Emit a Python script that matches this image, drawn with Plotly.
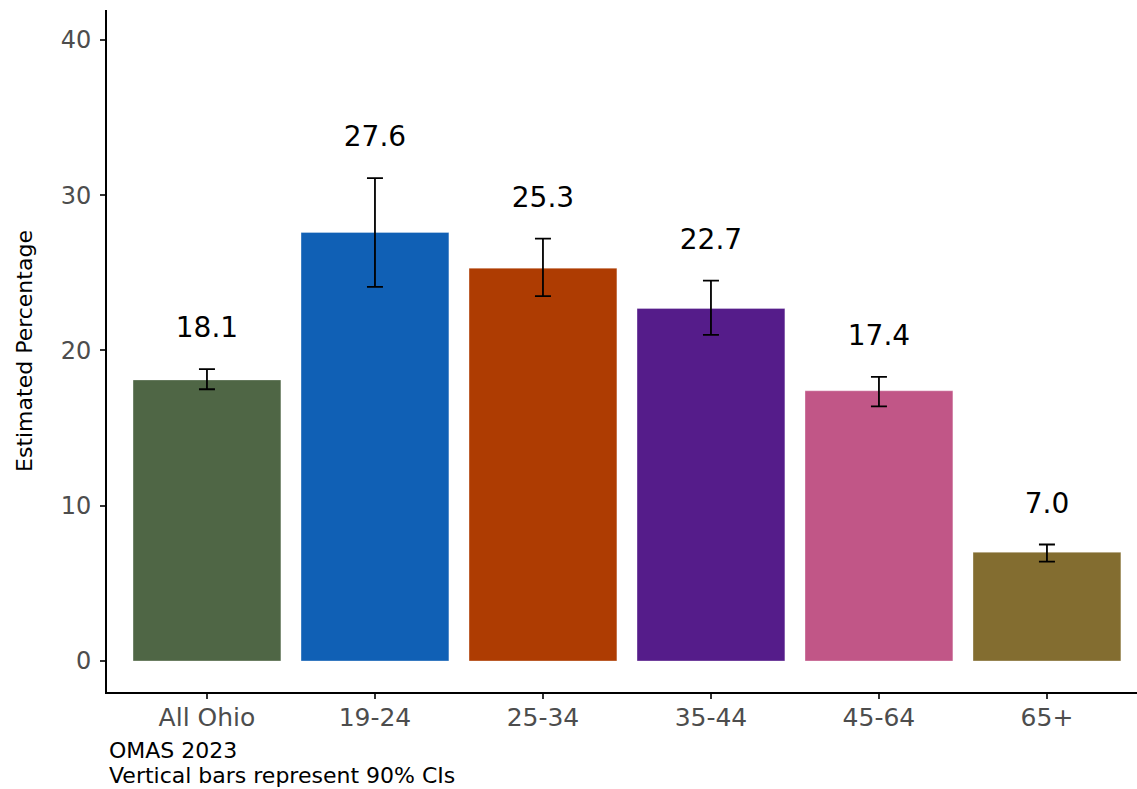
import plotly.graph_objects as go

categories = ["All Ohio", "19-24", "25-34", "35-44", "45-64", "65+"]
values = [18.1, 27.6, 25.3, 22.7, 17.4, 7.0]
ci_low = [17.5, 24.1, 23.5, 21.0, 16.4, 6.4]
ci_high = [18.8, 31.1, 27.2, 24.5, 18.3, 7.5]
colors = ["#4f6645", "#1060b5", "#ae3c02", "#551c8a", "#c15687", "#836d30"]
y_ticks = [0, 10, 20, 30, 40]
caption_lines = ["OMAS 2023", "Vertical bars represent 90% CIs"]

FONT = "DejaVu Sans"

fig = go.Figure()
fig.add_trace(go.Bar(
    x=categories, y=values, width=0.88,
    marker=dict(color=colors, line=dict(width=0.6, color="rgba(255,255,255,0.5)")),
    error_y=dict(type="data", symmetric=False,
                 array=[h - v for h, v in zip(ci_high, values)],
                 arrayminus=[v - l for l, v in zip(ci_low, values)],
                 color="black", thickness=1.8, width=8),
    hoverinfo="skip", showlegend=False,
))
fig.add_trace(go.Scatter(
    x=categories, y=[h + 2.5 for h in ci_high], mode="text",
    text=[f"{v:.1f}" for v in values],
    textfont=dict(family=FONT, size=28, color="black"),
    textposition="middle center", showlegend=False, hoverinfo="skip",
))

annotations = [
    dict(text="Estimated Percentage", textangle=-90, xref="paper", yref="paper",
         x=-0.0806, y=0.5, xanchor="center", yanchor="middle", showarrow=False,
         font=dict(family=FONT, size=22, color="black")),
]
# caption lines centered at pixel rows ~750 and ~776 (plot bottom at 692, height 682)
for i, line in enumerate(caption_lines):
    annotations.append(dict(text=line, xref="paper", yref="paper",
                            x=0, y=(692 - (750 + 26 * i)) / 682,
                            xanchor="left", yanchor="middle", align="left", showarrow=False,
                            font=dict(family=FONT, size=22, color="black")))

fig.update_layout(
    width=1137, height=789,
    margin=dict(l=107, r=0, t=10, b=97),
    paper_bgcolor="white", plot_bgcolor="white",
    font=dict(family=FONT),
    xaxis=dict(range=[-0.595, 5.536], showline=True, linecolor="black", linewidth=2,
               ticks="outside", ticklen=5, tickwidth=1.5, tickcolor="#333333",
               tickfont=dict(family=FONT, size=25, color="#4d4d4d"),
               ticklabelstandoff=-3,
               showgrid=False, zeroline=False),
    yaxis=dict(range=[-2.0, 41.93], showline=True, linecolor="black", linewidth=2,
               tickvals=y_ticks, ticks="outside", ticklen=5, tickwidth=1.5, tickcolor="#333333",
               tickfont=dict(family=FONT, size=24, color="#4d4d4d"),
               ticklabelstandoff=4,
               showgrid=False, zeroline=False),
    annotations=annotations,
)

fig.write_html("out.html", config={"displayModeBar": False},
               post_script="document.body.style.margin='0';document.body.style.overflow='hidden';")
